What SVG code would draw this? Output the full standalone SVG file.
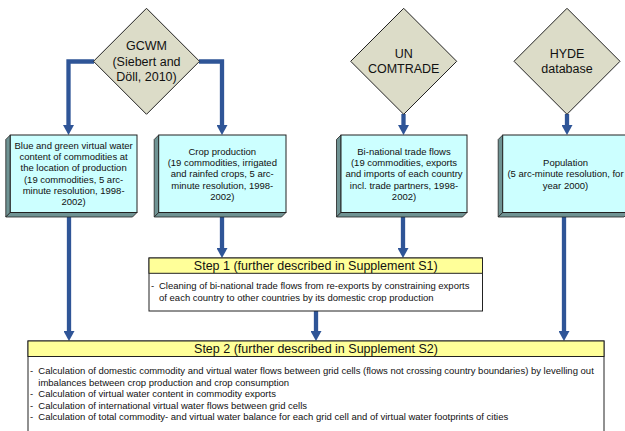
<svg xmlns="http://www.w3.org/2000/svg" width="625" height="431" viewBox="0 0 625 431">
<style>
text{font-family:"Liberation Sans",Arial,sans-serif;fill:#111}
.dia{fill:#dcdcc8;stroke:#222;stroke-width:1}
.dt{font-size:12.5px;text-anchor:middle}
.face{fill:#ccffff;stroke:#222;stroke-width:1}
.shade{fill:#6f9393;stroke:#222;stroke-width:0.8;stroke-linejoin:round}
.bt{font-size:9.5px;text-anchor:middle}
.st{font-size:9.5px}
.hd{font-size:12.5px;text-anchor:middle}
.hdr{fill:#ffff99;stroke:#222;stroke-width:1}
.body{fill:#ffffff;stroke:#222;stroke-width:1}
.con{fill:none;stroke:#2f5597;stroke-width:4.3;stroke-linejoin:miter;marker-end:url(#ah)}
</style>
<defs>
<marker id="ah" viewBox="0 0 10 11" refX="0" refY="5.5" markerWidth="10" markerHeight="11" markerUnits="userSpaceOnUse" orient="auto">
<path d="M0,0 L10,5.5 L0,11 z" fill="#2f5597"/>
</marker>
</defs>

<g id="connectors">
<path class="con" d="M94,61.5 H68.5 V125"/>
<path class="con" d="M199,61.5 H222 V125"/>
<path class="con" d="M403.5,114 V125"/>
<path class="con" d="M567,114 V125"/>
<path class="con" d="M69,216 V331"/>
<path class="con" d="M222,216 V248"/>
<path class="con" d="M403,216 V248"/>
<path class="con" d="M564,216 V331"/>
<path class="con" d="M316,311 V331"/>
</g>

<g id="gcwm">
<polygon class="dia" points="146.5,8.3 199.5,61.3 146.5,114.3 93.5,61.3"/>
<text class="dt" x="146.5" y="50.4">GCWM</text>
<text class="dt" x="146.5" y="65.7">(Siebert and</text>
<text class="dt" x="146.5" y="81">Döll, 2010)</text>
</g>

<g id="uncomtrade">
<polygon class="dia" points="403.7,8.3 456.7,61.3 403.7,114.3 350.7,61.3"/>
<text class="dt" x="403.7" y="57.7">UN</text>
<text class="dt" x="403.7" y="72.7">COMTRADE</text>
</g>

<g id="hyde">
<polygon class="dia" points="567,8.3 620,61.3 567,114.3 514,61.3"/>
<text class="dt" x="567" y="57.7">HYDE</text>
<text class="dt" x="567" y="72.7">database</text>
</g>

<g id="vwc">
<polygon class="shade" points="10.3,135 5.8,139.5 5.8,217 10.3,212.5"/>
<polygon class="shade" points="10.3,212.5 5.8,217 132.5,217 137,212.5"/>
<rect class="face" x="10.3" y="135" width="126.7" height="77.5"/>
<text class="bt" x="73.6" y="148.8">Blue and green virtual water</text>
<text class="bt" x="73.6" y="160.1">content of commodities at</text>
<text class="bt" x="73.6" y="171.4">the location of production</text>
<text class="bt" x="73.6" y="182.7">(19 commodities, 5 arc-</text>
<text class="bt" x="73.6" y="194">minute resolution, 1998-</text>
<text class="bt" x="73.6" y="205.3">2002)</text>
</g>

<g id="crop">
<polygon class="shade" points="158.7,135 154.2,139.5 154.2,217 158.7,212.5"/>
<polygon class="shade" points="158.7,212.5 154.2,217 281.5,217 286,212.5"/>
<rect class="face" x="158.7" y="135" width="127.3" height="77.5"/>
<text class="bt" x="222.3" y="154.8">Crop production</text>
<text class="bt" x="222.3" y="166.1">(19 commodities, irrigated</text>
<text class="bt" x="222.3" y="177.4">and rainfed crops, 5 arc-</text>
<text class="bt" x="222.3" y="188.7">minute resolution, 1998-</text>
<text class="bt" x="222.3" y="200">2002)</text>
</g>

<g id="trade">
<polygon class="shade" points="341,135 336.5,139.5 336.5,217 341,212.5"/>
<polygon class="shade" points="341,212.5 336.5,217 462.5,217 467,212.5"/>
<rect class="face" x="341" y="135" width="126" height="77.5"/>
<text class="bt" x="404" y="154.8">Bi-national trade flows</text>
<text class="bt" x="404" y="166.1">(19 commodities, exports</text>
<text class="bt" x="404" y="177.4">and imports of each country</text>
<text class="bt" x="404" y="188.7">incl. trade partners, 1998-</text>
<text class="bt" x="404" y="200">2002)</text>
</g>

<g id="population">
<polygon class="shade" points="502.7,135 498.2,139.5 498.2,217 502.7,212.5"/>
<polygon class="shade" points="502.7,212.5 498.2,217 624,217 628.5,212.5"/>
<rect class="face" x="502.7" y="135" width="125.8" height="77.5"/>
<text class="bt" x="565.5" y="166.1">Population</text>
<text class="bt" x="565.5" y="177.4">(5 arc-minute resolution, for</text>
<text class="bt" x="565.5" y="188.7">year 2000)</text>
</g>

<g id="step1">
<rect class="body" x="149" y="258" width="333.5" height="53"/>
<rect class="hdr" x="149" y="258" width="333.5" height="15.3"/>
<text class="hd" x="315.8" y="270.4">Step 1 (further described in Supplement S1)</text>
<text class="st" x="151" y="289">-</text>
<text class="st" x="159" y="289">Cleaning of bi-national trade flows from re-exports by constraining exports</text>
<text class="st" x="159" y="300.6">of each country to other countries by its domestic crop  production</text>
</g>

<g id="step2">
<rect class="body" x="28" y="341" width="576" height="100"/>
<rect class="hdr" x="28" y="341" width="576" height="15.5"/>
<text class="hd" x="316" y="353.4">Step 2 (further described in Supplement S2)</text>
<text class="st" x="30" y="374.3">-</text>
<text class="st" x="38.3" y="374.3">Calculation of domestic commodity and virtual water flows between grid cells (flows not crossing country boundaries) by levelling out</text>
<text class="st" x="38.3" y="385.8">imbalances  between crop production and crop consumption</text>
<text class="st" x="30" y="397.3">-</text>
<text class="st" x="38.3" y="397.3">Calculation of virtual water content in commodity exports</text>
<text class="st" x="30" y="408.8">-</text>
<text class="st" x="38.3" y="408.8">Calculation of international virtual water flows between grid cells</text>
<text class="st" x="30" y="420.3">-</text>
<text class="st" x="38.3" y="420.3">Calculation of total commodity- and virtual water balance for each grid cell and of virtual water footprints of cities</text>
</g>
</svg>
